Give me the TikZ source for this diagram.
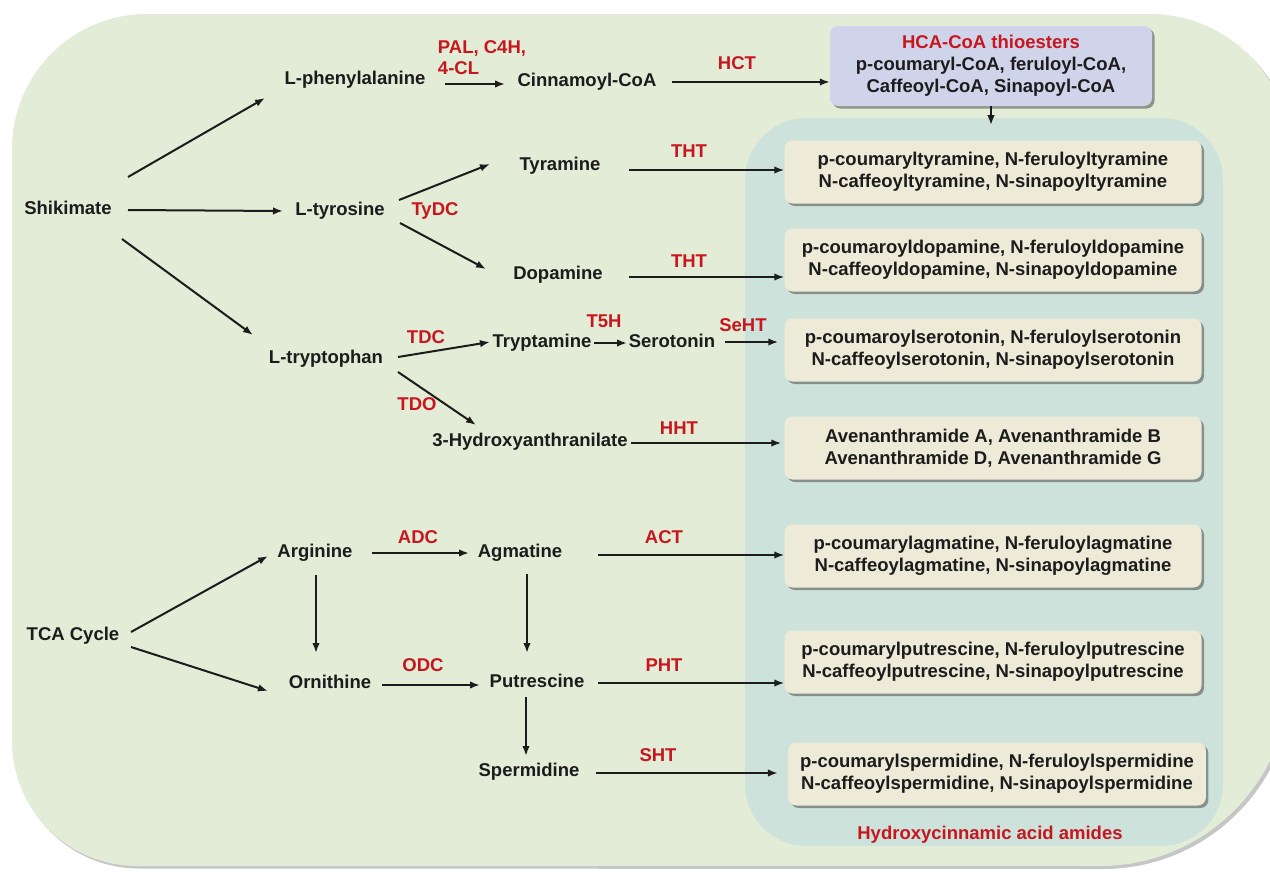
\documentclass[tikz,border=0pt]{standalone}
\usepackage{fontspec}
\setmainfont{Liberation Sans}
\usetikzlibrary{arrows.meta,shadows}
\definecolor{outerbg}{RGB}{226,236,214}
\definecolor{innerbg}{RGB}{206,226,220}
\definecolor{boxbeige}{RGB}{238,234,216}
\definecolor{hcabg}{RGB}{207,212,234}
\definecolor{enzred}{RGB}{200,22,30}
\definecolor{txt}{RGB}{28,28,28}
\tikzset{
  lbl/.style={font=\fontsize{18.5}{22}\selectfont\bfseries, text=txt, inner sep=0pt, text height=13.5pt, text depth=4pt},
  enz/.style={lbl, text=enzred},
  enzml/.style={font=\fontsize{18.5}{21}\selectfont\bfseries, text=enzred, inner sep=0pt, align=left},
  amide/.style={fill=boxbeige, rounded corners=8pt, minimum width=417pt, minimum height=63pt, inner xsep=12pt,
    align=center, font=\fontsize{18.5}{22}\selectfont\bfseries, text=txt,
    drop shadow={shadow xshift=2.5pt, shadow yshift=-2.5pt, fill=black!70, opacity=0.55}},
  arr/.style={-{Latex[length=10pt,width=7.5pt]}, line width=2pt, draw=txt},
}
\begin{document}
\begin{tikzpicture}[x=1pt,y=-1pt]
\useasboundingbox (0,0) rectangle (1270,871);
\begin{scope}
\clip (0,0) rectangle (1270,871);
% outer shadow
\fill[black!50, opacity=0.45] (14,151) arc[start angle=180, end angle=270, radius=135] -- (1153,17)
  arc[start angle=270, end angle=360, radius=140] -- (1293,679)
  arc[start angle=0, end angle=90, radius=190] -- (139,868.5)
  arc[start angle=90, end angle=180, radius=125] -- cycle;
% outer panel
\fill[outerbg] (12,149) arc[start angle=180, end angle=270, radius=135] -- (1150,14)
  arc[start angle=270, end angle=360, radius=140] -- (1290,676)
  arc[start angle=0, end angle=90, radius=190] -- (137,866)
  arc[start angle=90, end angle=180, radius=125] -- cycle;
\end{scope}

% inner panel
\node[fill=innerbg, rounded corners=62pt, minimum width=478pt, minimum height=728pt, inner sep=0pt] (panel) at (984,482) {};

% HCA box
\node[fill=hcabg, rounded corners=8pt, minimum width=322pt, minimum height=80pt, align=center,
  font=\fontsize{18.5}{22}\selectfont\bfseries, text=txt,
  drop shadow={shadow xshift=2.5pt, shadow yshift=-2.5pt, fill=black!70, opacity=0.55}] (hca) at (991,66)
  {\textcolor{enzred}{HCA-CoA thioesters}\\p-coumaryl-CoA, feruloyl-CoA,\\Caffeoyl-CoA, Sinapoyl-CoA};

% amide boxes
\node[amide] (b1) at (993,172) {p-coumaryltyramine, N-feruloyltyramine\\N-caffeoyltyramine, N-sinapoyltyramine};
\node[amide] (b2) at (993,260) {p-coumaroyldopamine, N-feruloyldopamine\\N-caffeoyldopamine, N-sinapoyldopamine};
\node[amide] (b3) at (993,350) {p-coumaroylserotonin, N-feruloylserotonin\\N-caffeoylserotonin, N-sinapoylserotonin};
\node[amide] (b4) at (993,448) {Avenanthramide A, Avenanthramide B\\Avenanthramide D, Avenanthramide G};
\node[amide] (b5) at (993,556) {p-coumarylagmatine, N-feruloylagmatine\\N-caffeoylagmatine, N-sinapoylagmatine};
\node[amide] (b6) at (993,662) {p-coumarylputrescine, N-feruloylputrescine\\N-caffeoylputrescine, N-sinapoylputrescine};
\node[amide] (b7) at (997,774) {p-coumarylspermidine, N-feruloylspermidine\\N-caffeoylspermidine, N-sinapoylspermidine};
\node[enz] (hcaa) at (990,835) {Hydroxycinnamic acid amides};

% metabolites
\node[lbl] (shik) at (68,210) {Shikimate};
\node[lbl] (phe) at (355,80) {L-phenylalanine};
\node[lbl] (cin) at (587,82) {Cinnamoyl-CoA};
\node[lbl] (tyr) at (340,211) {L-tyrosine};
\node[lbl] (tyra) at (560,166) {Tyramine};
\node[lbl] (dopa) at (558,275) {Dopamine};
\node[lbl] (trp) at (326,359) {L-tryptophan};
\node[lbl] (tryp) at (542,343) {Tryptamine};
\node[lbl] (sero) at (672,343) {Serotonin};
\node[lbl] (hya) at (530,442) {3-Hydroxyanthranilate};
\node[lbl] (tca) at (73,636) {TCA Cycle};
\node[lbl] (arg) at (315,553) {Arginine};
\node[lbl] (agm) at (520,553) {Agmatine};
\node[lbl] (orn) at (330,684) {Ornithine};
\node[lbl] (put) at (537,683) {Putrescine};
\node[lbl] (spd) at (529,772) {Spermidine};

% enzymes
\node[enzml] (lpal) at (482,57.5) {PAL, C4H,\\4-CL};
\node[enz] (lhct) at (737,65) {HCT};
\node[enz] (ltydc) at (435,211) {TyDC};
\node[enz] (ltht1) at (689,153) {THT};
\node[enz] (ltht2) at (689,263) {THT};
\node[enz] (ltdc) at (426,339) {TDC};
\node[enz] (lt5h) at (604,323) {T5H};
\node[enz] (lseht) at (743,327) {SeHT};
\node[enz] (ltdo) at (417,406) {TDO};
\node[enz] (lhht) at (679,430) {HHT};
\node[enz] (ladc) at (418,539) {ADC};
\node[enz] (lodc) at (423,667) {ODC};
\node[enz] (lact) at (664,539) {ACT};
\node[enz] (lpht) at (664,667) {PHT};
\node[enz] (lsht) at (658,757) {SHT};

% arrows
\draw[arr] ([shift={(60,-33)}]shik.center) -- ([shift={(-90,18)}]phe.center);
\draw[arr] ([shift={(60,0)}]shik.center) -- ([shift={(-57,0)}]tyr.center);
\draw[arr] ([shift={(54,29)}]shik.center) -- ([shift={(-73,-24)}]trp.center);
\draw[arr] ([shift={(90,4)}]phe.center) -- ([shift={(-82,2)}]cin.center);
\draw[arr] ([shift={(85,0)}]cin.center) -- (hca.west |- cin.center);
\draw[arr] (hca.south) -- ++(0,19);
\draw[arr] ([shift={(59,-11)}]tyr.center) -- ([shift={(-70,-2)}]tyra.center);
\draw[arr] ([shift={(60,12)}]tyr.center) -- ([shift={(-72,-6)}]dopa.center);
\draw[arr] ([shift={(69,4)}]tyra.center) -- ([shift={(0,-2)}]b1.west);
\draw[arr] ([shift={(71,2)}]dopa.center) -- ([shift={(0,17)}]b2.west);
\draw[arr] ([shift={(72,-2)}]trp.center) -- ([shift={(-52,-1)}]tryp.center);
\draw[arr] ([shift={(72,13)}]trp.center) -- ([shift={(-54,-17)}]hya.center);
\draw[arr] ([shift={(52,0)}]tryp.center) -- ([shift={(-45,0)}]sero.center);
\draw[arr] ([shift={(53,-1)}]sero.center) -- ([shift={(-6,-8)}]b3.west);
\draw[arr] ([shift={(101,1)}]hya.center) -- ([shift={(-3,-5)}]b4.west);
\draw[arr] ([shift={(58,-4)}]tca.center) -- ([shift={(-47,3)}]arg.center);
\draw[arr] ([shift={(58,11)}]tca.center) -- ([shift={(-62,7)}]orn.center);
\draw[arr] ([shift={(57,0)}]arg.center) -- ([shift={(-51,0)}]agm.center);
\draw[arr] ([shift={(1,22)}]arg.center) -- ([shift={(-14,-31)}]orn.center);
\draw[arr] ([shift={(7,21)}]agm.center) -- ([shift={(-10,-30)}]put.center);
\draw[arr] ([shift={(52,1)}]orn.center) -- ([shift={(-57,2)}]put.center);
\draw[arr] ([shift={(-11,14)}]put.center) -- ([shift={(-3,-16)}]spd.center);
\draw[arr] ([shift={(78,2)}]agm.center) -- ([shift={(0,-1)}]b5.west);
\draw[arr] ([shift={(61,0)}]put.center) -- ([shift={(0,21)}]b6.west);
\draw[arr] ([shift={(67,1)}]spd.center) -- ([shift={(-10,-1)}]b7.west);
\end{tikzpicture}
\end{document}
